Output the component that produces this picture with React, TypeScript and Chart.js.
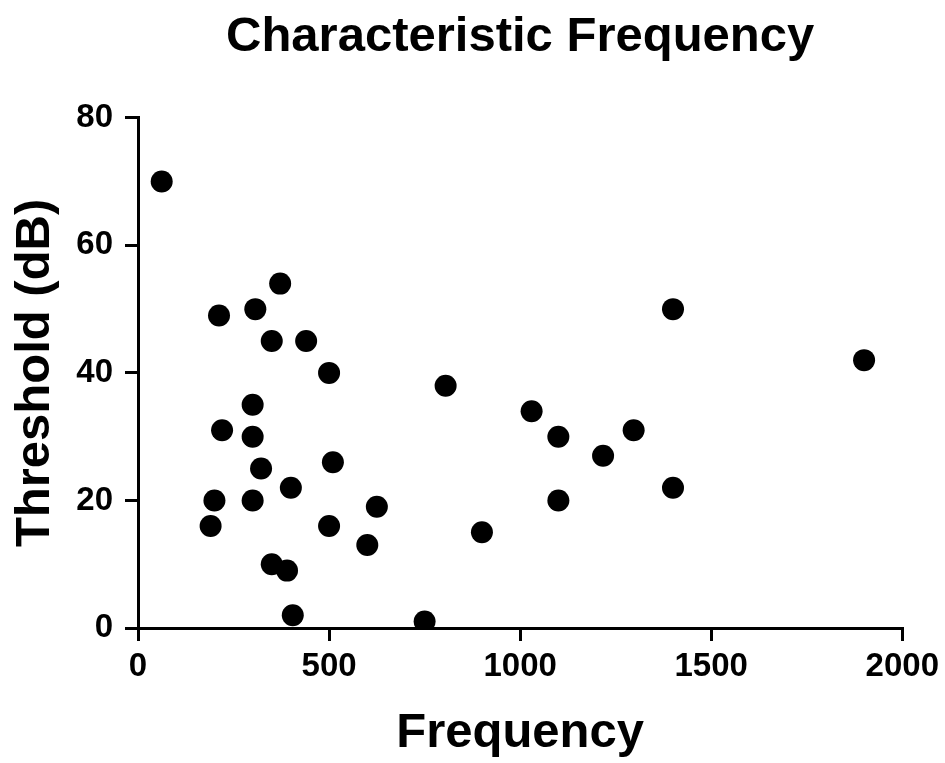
import React, { useEffect, useRef } from "react";
import { Chart, registerables } from "chart.js";

Chart.register(...registerables);

const frequency = [62, 212, 307, 372, 350, 440, 500, 300, 220, 300, 322, 510, 200, 300, 400, 190, 500, 625, 600, 350, 390, 405, 750, 805, 900, 1030, 1100, 1100, 1217, 1297, 1400, 1400, 1900];
const threshold = [70, 49, 50, 54, 45, 45, 40, 35, 31, 30, 25, 26, 20, 20, 22, 16, 16, 19, 13, 10, 9, 2, 1, 38, 15, 34, 30, 20, 27, 31, 50, 22, 42];

const chartTitle = "Characteristic Frequency";
const xTitle = "Frequency";
const yTitle = "Threshold (dB)";
const xMin = 0, xMax = 2000, xStep = 500;
const yMin = 0, yMax = 80, yStep = 20;

const FONT = "'Liberation Sans', Arial, Helvetica, sans-serif";

export default function App() {
  const ref = useRef<HTMLCanvasElement | null>(null);
  useEffect(() => {
    document.body.style.margin = "0";
    const canvas = ref.current;
    if (!canvas) return;
    const points = frequency.map((f, i) => ({ x: f, y: threshold[i] }));
    const axisCommon = {
      border: { display: true, color: "#000", width: 3 },
      grid: {
        display: true,
        drawOnChartArea: false,
        drawTicks: true,
        tickLength: 13,
        color: "#000",
        lineWidth: 3,
      },
    };
    const chart = new Chart(canvas, {
      type: "scatter",
      data: {
        datasets: [
          {
            data: points,
            backgroundColor: "#000",
            borderColor: "#000",
            borderWidth: 0,
            pointRadius: 11,
          },
        ],
      },
      options: {
        animation: false,
        responsive: false,
        maintainAspectRatio: false,
        layout: { padding: { left: 0, right: 41, top: 0, bottom: 0 } },
        plugins: {
          legend: { display: false },
          tooltip: { enabled: false },
          title: {
            display: true,
            fullSize: false,
            text: chartTitle,
            color: "#000",
            font: { family: FONT, size: 49, weight: "bold", lineHeight: 1.2 },
            padding: { top: 8, bottom: 51 },
          },
        },
        scales: {
          x: {
            type: "linear",
            min: xMin,
            max: xMax,
            ...axisCommon,
            ticks: {
              stepSize: xStep,
              color: "#000",
              padding: 6,
              maxRotation: 0,
              font: { family: FONT, size: 33, weight: "bold" },
              callback: (v: any) => String(v),
            },
            title: {
              display: true,
              text: xTitle,
              color: "#000",
              font: { family: FONT, size: 49, weight: "bold", lineHeight: 1.2 },
              padding: { top: 0, bottom: 0 },
            },
            afterFit: (scale: any) => {
              scale.height = 135;
            },
          },
          y: {
            type: "linear",
            min: yMin,
            max: yMax,
            ...axisCommon,
            ticks: {
              stepSize: yStep,
              color: "#000",
              padding: 12,
              font: { family: FONT, size: 33, weight: "bold" },
              callback: (v: any) => String(v),
            },
            title: {
              display: true,
              text: yTitle,
              color: "#000",
              font: { family: FONT, size: 49, weight: "bold", lineHeight: 1.2 },
              padding: { top: 6, bottom: 0 },
            },
            afterFit: (scale: any) => {
              scale.width = 138;
            },
          },
        },
      },
    });
    return () => chart.destroy();
  }, []);
  return (
    <div style={{ width: 945, height: 763, background: "#fff" }}>
      <canvas ref={ref} width={945} height={763} style={{ display: "block" }} />
    </div>
  );
}
